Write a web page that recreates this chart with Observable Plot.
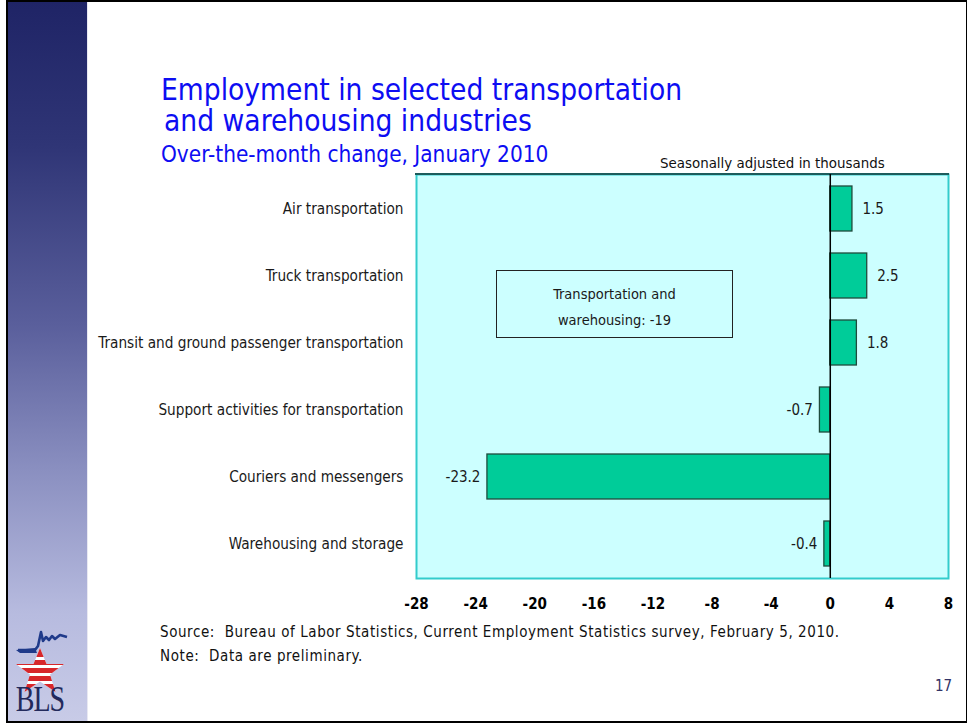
<!DOCTYPE html>
<html>
<head>
<meta charset="utf-8">
<script src="https://cdn.jsdelivr.net/npm/d3@7"></script>
<script src="https://cdn.jsdelivr.net/npm/@observablehq/plot@0.6"></script>
<style>
  html, body { margin: 0; padding: 0; background: #fff; }
  #page { position: relative; width: 967px; height: 723px; overflow: hidden; background: #fff;
          font-family: "DejaVu Sans Condensed", "DejaVu Sans", sans-serif; font-stretch: condensed; }
  #border { position: absolute; left: 6px; top: 0px; width: 958px; height: 719px; border: 2px solid #000; box-sizing: content-box; pointer-events: none; z-index: 5; }
  #sidebar { position: absolute; left: 8px; top: 2px; width: 79px; height: 719px;
             background: linear-gradient(to bottom, #1f2466 0%, #2f3576 20%, #5a5f9c 45%, #8a8fc0 65%, #b7bbdf 85%, #c8cbe7 100%);
             border-right: 1px solid #e8e8f2; }
  .abs { position: absolute; white-space: nowrap; }
  .title { color: #0d0df2; font-size: 29.6px; line-height: 31px; }
  .subtitle { color: #0d0df2; font-size: 22.4px; line-height: 1; }
  #chart { position: absolute; left: 90px; top: 0px; }
  #chart svg { background: transparent; }
  g[aria-label^="x-axis"] text { font-weight: bold; font-size: 15px; fill: #000; }
  g[aria-label^="y-axis"] text { font-size: 15.2px; fill: #1a1a1a; }
  #annot { position: absolute; left: 496px; top: 270px; width: 237px; height: 68px; border: 1px solid #222; box-sizing: border-box;
           font-size: 14.5px; color: #1a1a1a; text-align: center; line-height: 26px; padding-top: 10px; }
  .foot { font-size: 15px; letter-spacing: 0.58px; color: #111; }
</style>
</head>
<body>
<div id="page">
  <div id="sidebar"></div>
  <div class="abs title" style="left:161px; top:75px;">Employment in selected transportation<br><span style="padding-left:3px">and warehousing industries</span></div>
  <div class="abs subtitle" style="left:161px; top:143px;">Over-the-month change, January 2010</div>
  <div class="abs" style="left:660px; top:154px; font-size:14.9px; color:#111;">Seasonally adjusted in thousands</div>
  <div id="chart"></div>
  <div id="annot"></div>
  <div class="abs foot" id="source" style="left:160px; top:623px;"></div>
  <div class="abs foot" id="note" style="left:160px; top:647px;"></div>
  <div class="abs" style="left:935px; top:677px; font-size:15px; color:#333366;">17</div>
  <svg class="abs" style="left:5px; top:626px;" width="72" height="94" viewBox="0 0 72 94">
    <defs>
      <clipPath id="starclip">
        <polygon points="35,22 41.5,38 59,38 45,48.5 50.5,66 35,55.5 19.5,66 25,48.5 11,38 28.5,38"/>
      </clipPath>
    </defs>
    <g clip-path="url(#starclip)">
      <rect x="0" y="18" width="72" height="50" fill="#fff"/>
      <rect x="0" y="18" width="72" height="13" fill="#d7262b"/>
      <rect x="0" y="34" width="72" height="5" fill="#d7262b"/>
      <rect x="0" y="42" width="72" height="5" fill="#d7262b"/>
      <rect x="0" y="50" width="72" height="5" fill="#d7262b"/>
      <rect x="0" y="58" width="72" height="10" fill="#d7262b"/>
    </g>
    <polyline points="13,24 30,24 33,20 36,6 38,15 41,11 44,14 47,10 50,13 55,9 62,11" fill="none" stroke="#1f3a8a" stroke-width="2.6" stroke-linejoin="round"/>
    <polygon points="11,24 30,22 32,27 15,27" fill="#1f3a8a"/>
    <text x="35" y="0" text-anchor="middle" transform="translate(0,85) scale(1,1.25)" font-family="Liberation Serif, DejaVu Serif, serif" font-size="28" fill="#232a5c" letter-spacing="-1">BLS</text>
  </svg>
  <div id="border"></div>
</div>
<script>
const categories = [
  "Air transportation",
  "Truck transportation",
  "Transit and ground passenger transportation",
  "Support activities for transportation",
  "Couriers and messengers",
  "Warehousing and storage"
];
const values = [1.5, 2.5, 1.8, -0.7, -23.2, -0.4];
const xTicks = [-28, -24, -20, -16, -12, -8, -4, 0, 4, 8];
const annotationLines = ["Transportation and", "warehousing: -19"];
const sourceText = "Source:\u00a0 Bureau of Labor Statistics, Current Employment Statistics survey, February 5, 2010.";
const noteText = "Note:\u00a0 Data are preliminary.";

const data = categories.map((c, i) => ({category: c, value: values[i]}));

function topEdge(index, scales, values, dims) {
  const l = document.createElementNS("http://www.w3.org/2000/svg", "line");
  l.setAttribute("x1", dims.marginLeft - 1);
  l.setAttribute("x2", dims.width - dims.marginRight + 1);
  l.setAttribute("y1", dims.marginTop);
  l.setAttribute("y2", dims.marginTop);
  l.setAttribute("stroke", "#1d5c5c");
  l.setAttribute("stroke-width", 2);
  return l;
}

const chart = Plot.plot({
  width: 877,
  height: 723,
  marginLeft: 326,
  marginRight: 19,
  marginTop: 174,
  marginBottom: 145,
  style: {background: "transparent", fontFamily: '"DejaVu Sans Condensed", "DejaVu Sans", sans-serif', fontStretch: "condensed", overflow: "visible"},
  x: {domain: [-28, 8], ticks: xTicks, tickFormat: d => String(d), tickSize: 0, tickPadding: 20, label: null},
  y: {domain: categories, paddingInner: 0.33, paddingOuter: 0.165, tickSize: 0, tickPadding: 13, label: null},
  marks: [
    Plot.frame({fill: "#ccffff", stroke: "#33cccc", strokeWidth: 2}),
    topEdge,
    Plot.barX(data, {x: "value", y: "category", fill: "#00cc99", stroke: "#1f4a3c", strokeWidth: 1.3}),
    Plot.ruleX([0], {stroke: "#000", strokeWidth: 1.5}),
    Plot.text(data.filter(d => d.value >= 0), {x: "value", y: "category", text: d => d.value.toFixed(1), textAnchor: "start", dx: 10, fontSize: 15, fill: "#1a1a1a"}),
    Plot.text(data.filter(d => d.value < 0), {x: "value", y: "category", text: d => d.value.toFixed(1), textAnchor: "end", dx: -7, fontSize: 15, fill: "#1a1a1a"})
  ]
});
document.getElementById("chart").appendChild(chart);
document.getElementById("annot").innerHTML = annotationLines.map(s => `<div>${s}</div>`).join("");
document.getElementById("source").textContent = sourceText;
document.getElementById("note").textContent = noteText;
</script>
</body>
</html>
